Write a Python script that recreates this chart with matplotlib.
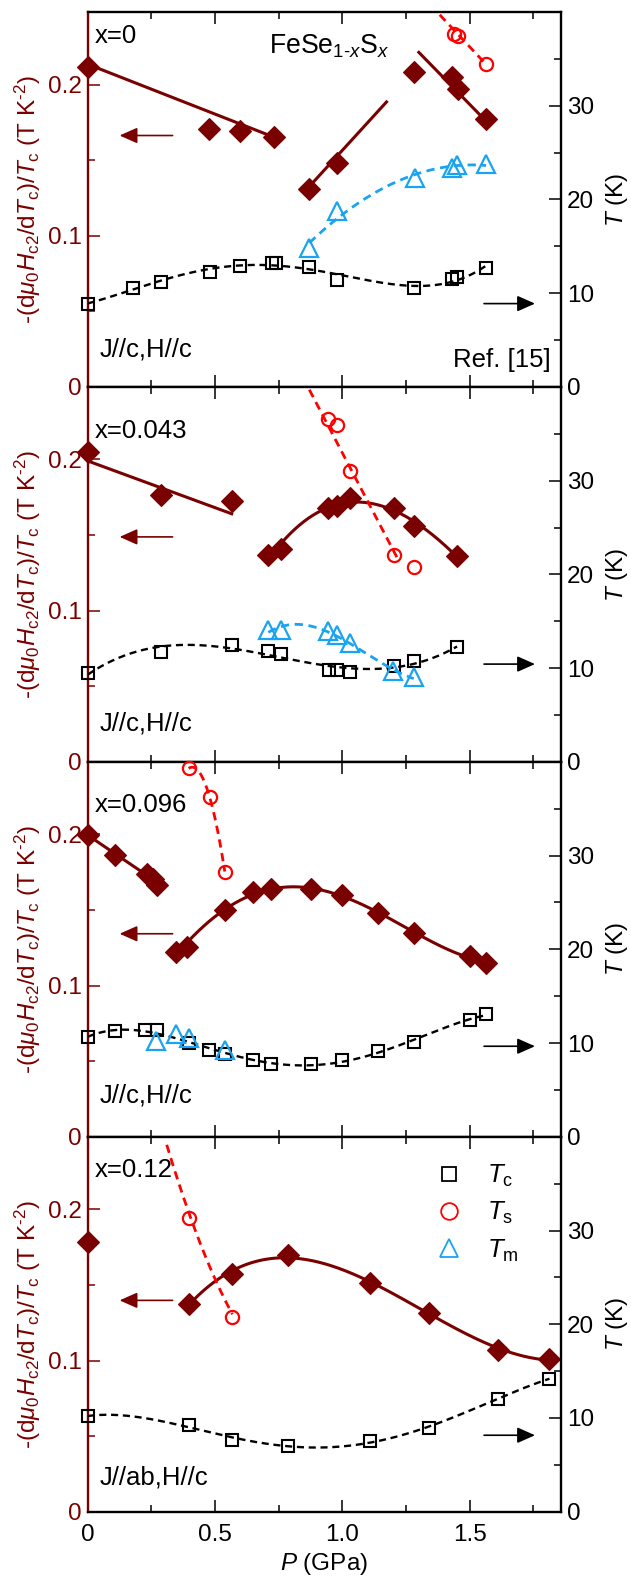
# ================================
# FeSe(1-x)S(x) : slope of Hc2 and Tc/Ts/Tm vs pressure
# ================================

import numpy as np
import matplotlib.pyplot as plt
from matplotlib.lines import Line2D
from matplotlib.ticker import FuncFormatter

plt.rcParams['font.family'] = ['Liberation Sans', 'DejaVu Sans']
plt.rcParams['mathtext.fontset'] = 'custom'
plt.rcParams['mathtext.rm'] = 'Liberation Sans'
plt.rcParams['mathtext.it'] = 'Liberation Sans:italic'
plt.rcParams['mathtext.bf'] = 'Liberation Sans:bold'

MAROON = '#7a0000'
RED = '#ff0000'
BLUE = '#1aa3f0'

# ================================
# Data
# ================================
compositions = ['x=0', 'x=0.043', 'x=0.096', 'x=0.12']
geometries = ['J//c,H//c', 'J//c,H//c', 'J//c,H//c', 'J//ab,H//c']

# panel 1, x = 0
p1_dia_P = [0, 0.476, 0.599, 0.732, 0.871, 0.978, 1.281, 1.431, 1.454, 1.565]
p1_dia_y = [0.2113, 0.1707, 0.1696, 0.1652, 0.1308, 0.148, 0.2084, 0.2051, 0.1973, 0.177]
p1_line_P = [[0, 0.732], [0.871, 1.174], [1.301, 1.565]]
p1_line_y = [[0.2135, 0.1652], [0.1326, 0.1885], [0.2213, 0.1758]]
p1_tc_P = [0, 0.177, 0.287, 0.479, 0.598, 0.725, 0.74, 0.871, 0.981, 1.281, 1.431, 1.451, 1.565]
p1_tc_T = [8.89, 10.52, 11.23, 12.30, 12.90, 13.26, 13.26, 12.83, 11.38, 10.52, 11.48, 11.73, 12.66]
p1_ts_P = [1.438, 1.454, 1.565]
p1_ts_T = [37.61, 37.43, 34.41]
p1_ts_line_P = [1.383, 1.565]
p1_ts_line_T = [39.7, 34.41]
p1_tm_P = [0.871, 0.981, 1.286, 1.431, 1.451, 1.565]
p1_tm_T = [14.86, 18.77, 22.32, 23.39, 23.64, 23.82]

# panel 2, x = 0.043
p2_dia_P = [0, 0.287, 0.566, 0.710, 0.760, 0.946, 0.981, 1.032, 1.202, 1.281, 1.451]
p2_dia_y = [0.2047, 0.1763, 0.1725, 0.1366, 0.1408, 0.168, 0.1692, 0.1747, 0.168, 0.1559, 0.1364]
p2_line_P = [[0, 0.566]]
p2_line_y = [[0.1991, 0.1641]]
p2_tc_P = [0, 0.287, 0.566, 0.710, 0.760, 0.95, 0.981, 1.032, 1.202, 1.281, 1.451]
p2_tc_T = [9.47, 11.67, 12.49, 11.78, 11.49, 9.82, 9.79, 9.61, 10.25, 10.78, 12.21]
p2_ts_P = [0.946, 0.981, 1.032, 1.202, 1.281]
p2_ts_T = [36.58, 35.94, 31.07, 22.1, 20.75]
p2_ts_line_P = [0.871, 1.225]
p2_ts_line_T = [39.7, 21.3]
p2_tm_P = [0.710, 0.760, 0.946, 0.978, 1.032, 1.199, 1.281]
p2_tm_T = [14.06, 14.06, 13.91, 13.56, 12.63, 9.64, 9.0]

# panel 3, x = 0.096
p3_dia_P = [0, 0.109, 0.232, 0.256, 0.271, 0.347, 0.39, 0.539, 0.650, 0.721, 0.879, 1.0,
            1.139, 1.281, 1.502, 1.565]
p3_dia_y = [0.1996, 0.1863, 0.1737, 0.1704, 0.1664, 0.1221, 0.1257, 0.15, 0.162, 0.1637,
            0.1637, 0.1597, 0.1482, 0.135, 0.1199, 0.115]
p3_line_P = [[0, 0.295]]
p3_line_y = [[0.1996, 0.1659]]
p3_tc_P = [0, 0.109, 0.227, 0.271, 0.397, 0.476, 0.539, 0.65, 0.721, 0.879, 1.0, 1.139,
           1.281, 1.502, 1.565]
p3_tc_T = [10.62, 11.26, 11.4, 11.4, 9.98, 9.27, 8.78, 8.21, 7.79, 7.79, 8.14, 9.1, 10.09,
           12.46, 13.1]
p3_ts_P = [0.397, 0.480, 0.539]
p3_ts_T = [39.3, 36.2, 28.3]
p3_ts_line_P = p3_ts_P
p3_ts_line_T = p3_ts_T
p3_tm_P = [0.268, 0.347, 0.397, 0.539]
p3_tm_T = [10.27, 10.97, 10.55, 9.27]

# panel 4, x = 0.12
p4_dia_P = [0, 0.397, 0.568, 0.789, 1.11, 1.341, 1.612, 1.814]
p4_dia_y = [0.1785, 0.1376, 0.1571, 0.1697, 0.1515, 0.1316, 0.1073, 0.1007]
p4_tc_P = [0, 0.397, 0.568, 0.789, 1.11, 1.341, 1.612, 1.814]
p4_tc_T = [10.19, 9.23, 7.63, 7.03, 7.53, 8.98, 12.07, 14.2]
p4_ts_P = [0.400, 0.569]
p4_ts_T = [31.3, 20.8]
p4_ts_line_P = [0.311, 0.400, 0.507, 0.569]
p4_ts_line_T = [39.3, 31.3, 25.0, 20.8]

# arrow heights (left axis value / right axis temperature)
left_arrow_y = [0.1663, 0.1488, 0.1343, 0.1398]
right_arrow_T = [8.89, 10.43, 9.66, 8.16]


def guide(P, v, deg, lo=None, hi=None):
    """smooth polynomial guide to the eye through a set of points"""
    P = np.asarray(P, float)
    v = np.asarray(v, float)
    lo = P.min() if lo is None else lo
    hi = P.max() if hi is None else hi
    c = np.polyfit(P, v, deg)
    xs = np.linspace(lo, hi, 300)
    return xs, np.polyval(c, xs)


# curved maroon guides: (first index of the group, degree)
panels = [
    dict(dia=(p1_dia_P, p1_dia_y), lines=(p1_line_P, p1_line_y), curve=None,
         tc=(p1_tc_P, p1_tc_T, 4), ts=(p1_ts_P, p1_ts_T), ts_line=(p1_ts_line_P, p1_ts_line_T, 1),
         tm=(p1_tm_P, p1_tm_T), tm_deg=2),
    dict(dia=(p2_dia_P, p2_dia_y), lines=(p2_line_P, p2_line_y), curve=(3, 3),
         tc=(p2_tc_P, p2_tc_T, 3), ts=(p2_ts_P, p2_ts_T), ts_line=(p2_ts_line_P, p2_ts_line_T, 1),
         tm=(p2_tm_P, p2_tm_T), tm_deg=3),
    dict(dia=(p3_dia_P, p3_dia_y), lines=(p3_line_P, p3_line_y), curve=(5, 4),
         tc=(p3_tc_P, p3_tc_T, 4), ts=(p3_ts_P, p3_ts_T), ts_line=(p3_ts_line_P, p3_ts_line_T, 2),
         tm=(p3_tm_P, p3_tm_T), tm_deg=None),
    dict(dia=(p4_dia_P, p4_dia_y), lines=None, curve=(1, 3),
         tc=(p4_tc_P, p4_tc_T, 4), ts=(p4_ts_P, p4_ts_T), ts_line=(p4_ts_line_P, p4_ts_line_T, 2),
         tm=None, tm_deg=None),
]

# text placement (axes fraction, baseline)
comp_y = [0.916, 0.865, 0.865, 0.893]
geom_y = [0.080, 0.0845, 0.091, 0.073]

# ================================
# Figure
# ================================
fig, axes = plt.subplots(4, 1, sharex=True, figsize=(6.31, 15.78), dpi=100)
fig.subplots_adjust(left=0.1387, right=0.889, bottom=0.042, top=0.9924, hspace=0)

FS = 17.5
TXT = 18.5
dash = (3, 2)
ylab = r'-(d$\mu_0$$H_{\rm c2}$/d$T_{\rm c}$)/$T_{\rm c}$ (T K$^{\mathrm{‐2}}$)'

for i, (ax, pn) in enumerate(zip(axes, panels)):
    ax2 = ax.twinx()

    # ---- left axis: slope of Hc2
    if pn['lines'] is not None:
        for lp, ly in zip(*pn['lines']):
            ax.plot(lp, ly, color=MAROON, lw=2.2, zorder=2)
    dP, dy = pn['dia']
    if pn['curve'] is not None:
        start, deg = pn['curve']
        xs, ys = guide(dP[start:], dy[start:], deg)
        ax.plot(xs, ys, color=MAROON, lw=2.2, zorder=2)
    ax.plot(dP, dy, ls='none', marker='D', ms=11.5, mfc=MAROON, mec=MAROON, mew=0.8,
            clip_on=False, zorder=3)

    # ---- right axis: temperatures
    tP, tT, tdeg = pn['tc']
    xs, ys = guide(tP, tT, tdeg)
    ax2.plot(xs, ys, color='k', lw=1.7, ls='--', dashes=dash)
    ax2.plot(tP, tT, ls='none', marker='s', ms=8.5, mfc='none', mec='k', mew=1.5,
             clip_on=False)

    lP, lT, ldeg = pn['ts_line']
    xs, ys = guide(lP, lT, ldeg)
    ax2.plot(xs, ys, color=RED, lw=2, ls='--', dashes=dash)
    ax2.plot(*pn['ts'], ls='none', marker='o', ms=9.5, mfc='none', mec=RED, mew=1.6,
             clip_on=False)

    if pn['tm'] is not None:
        mP, mT = pn['tm']
        if pn['tm_deg'] is not None:
            xs, ys = guide(mP, mT, pn['tm_deg'])
            ax2.plot(xs, ys, color=BLUE, lw=2, ls='--', dashes=dash)
        ax2.plot(mP, mT, ls='none', marker='^', ms=12.5, mfc='none', mec=BLUE, mew=1.6,
                 clip_on=False)

    # ---- arrows
    ax.annotate('', xy=(0.126, left_arrow_y[i]), xytext=(0.334, left_arrow_y[i]),
                arrowprops=dict(arrowstyle='-|>,head_length=0.45,head_width=0.2',
                                color=MAROON, lw=1.2, mutation_scale=24,
                                shrinkA=0, shrinkB=0))
    ax2.annotate('', xy=(1.757, right_arrow_T[i]), xytext=(1.557, right_arrow_T[i]),
                 arrowprops=dict(arrowstyle='-|>,head_length=0.45,head_width=0.2',
                                 color='k', lw=1.2, mutation_scale=24,
                                 shrinkA=0, shrinkB=0))

    # ---- texts
    ax.text(0.015, comp_y[i], compositions[i], transform=ax.transAxes, fontsize=TXT,
            va='baseline', ha='left')
    ax.text(0.026, geom_y[i], geometries[i], transform=ax.transAxes, fontsize=TXT,
            va='baseline', ha='left')

    # ---- axes styling
    ax.set_xlim(0, 1.859)
    ax.set_ylim(0, 0.248)
    ax2.set_ylim(0, 40)

    ax.set_xticks([0, 0.5, 1.0, 1.5])
    ax.set_xticks([0.25, 0.75, 1.25, 1.75], minor=True)
    ax.xaxis.set_major_formatter(FuncFormatter(lambda v, _: '0' if v == 0 else f'{v:.1f}'))
    ax.set_yticks([0, 0.1, 0.2])
    ax.set_yticks([0.05, 0.15], minor=True)
    ax.yaxis.set_major_formatter(FuncFormatter(lambda v, _: '0' if v == 0 else f'{v:.1f}'))
    ax2.set_yticks([0, 10, 20, 30])
    ax2.set_yticks([5, 15, 25, 35], minor=True)

    ax.tick_params(axis='x', which='both', direction='in', top=True, bottom=True,
                   labelsize=FS, pad=9, width=1.1)
    ax.tick_params(axis='x', which='major', length=8.6)
    ax.tick_params(axis='x', which='minor', length=4.8)
    ax.tick_params(axis='y', which='both', direction='in', left=True, right=False,
                   colors=MAROON, labelsize=FS, pad=4, width=1.1)
    ax.tick_params(axis='y', which='major', length=8.6)
    ax.tick_params(axis='y', which='minor', length=4.8)
    ax2.tick_params(axis='y', which='both', direction='in', labelsize=FS, pad=4.3, width=1.1)
    ax2.tick_params(axis='y', which='major', length=8.6)
    ax2.tick_params(axis='y', which='minor', length=4.8)

    for s in ax.spines.values():
        s.set_linewidth(1.7)
    ax.spines['left'].set_color(MAROON)
    ax.spines['right'].set_visible(False)
    for name in ['left', 'top', 'bottom']:
        ax2.spines[name].set_visible(False)
    ax2.spines['right'].set_linewidth(1.7)

    ax.set_ylabel(ylab, color=MAROON, fontsize=FS)
    ax.yaxis.set_label_coords(-0.1257, 0.5)
    ax.yaxis.label.set_va('center')
    ax2.set_ylabel(r'$T$ (K)', fontsize=FS, rotation=90)
    ax2.yaxis.set_label_coords(1.1176, 0.5)
    ax2.yaxis.label.set_va('center')

    if i == 0:
        ax.text(0.383, 0.8896, r'FeSe$_{\mathit{1‐x}}$S$_x$', transform=ax.transAxes,
                fontsize=19.2, va='baseline', ha='left')
        ax.text(0.978, 0.052, 'Ref. [15]', transform=ax.transAxes, fontsize=TXT,
                va='baseline', ha='right')
    if i == 3:
        handles = [
            Line2D([], [], ls='none', marker='s', ms=10, mfc='none', mec='k', mew=1.3),
            Line2D([], [], ls='none', marker='o', ms=12, mfc='none', mec=RED, mew=1.3),
            Line2D([], [], ls='none', marker='^', ms=13, mfc='none', mec=BLUE, mew=1.3),
        ]
        ax2.legend(handles, [r'$T_{\rm c}$', r'$T_{\rm s}$', r'$T_{\rm m}$'],
                   loc='upper left', bbox_to_anchor=(0.714, 0.958), frameon=False,
                   fontsize=TXT, handlelength=1.0, handletextpad=1.0, labelspacing=0.43,
                   borderaxespad=0)

axes[-1].set_xlabel(r'$P$ (GPa)', fontsize=FS)
axes[-1].xaxis.set_label_coords(0.5, -0.105)

fig.savefig('out.png', dpi=100)
